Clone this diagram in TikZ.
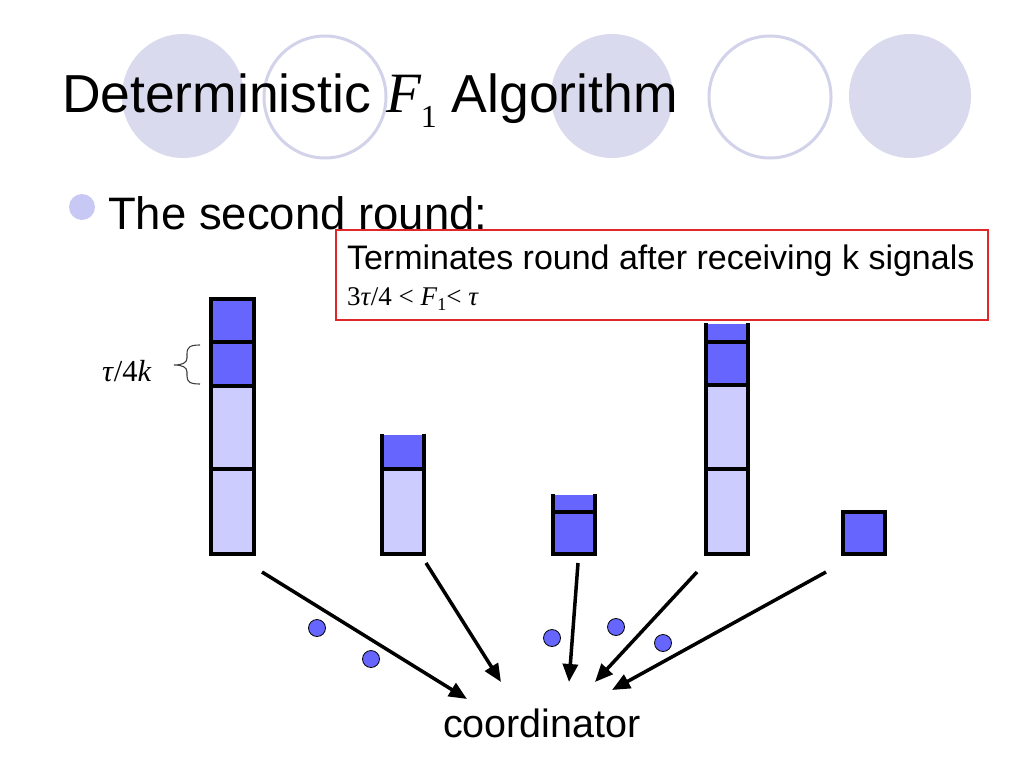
\documentclass[tikz,border=0pt]{standalone}
\usepackage{fontspec}
\setmainfont{Liberation Sans}
\newfontfamily\seriffont{Liberation Serif}
\usetikzlibrary{arrows.meta}
\definecolor{deco}{HTML}{DADAEE}
\definecolor{decoline}{HTML}{D2D2EA}
\definecolor{darkseg}{HTML}{6666FF}
\definecolor{lightseg}{HTML}{CCCCFF}
\definecolor{bulletcol}{HTML}{C8C8F4}
\definecolor{boxred}{HTML}{E02828}
\begin{document}
\begin{tikzpicture}[x=1pt,y=-1pt,
  txt/.style={anchor=base west,inner sep=0pt,outer sep=0pt},
  barline/.style={line width=4pt,line cap=rect},
  conn/.style={line width=3.5pt,-{Triangle[length=18pt,width=15pt]}},
  sig/.style={circle,fill=darkseg,draw=black,line width=0.8pt,minimum size=17pt,inner sep=0pt}]
\useasboundingbox (0,0) rectangle (1024,768);
% header decoration
\fill[deco] (183,96) ellipse [x radius=61pt,y radius=62pt];
\draw[decoline,line width=3pt] (325,97) ellipse [x radius=61pt,y radius=61pt];
\fill[deco] (612,96) ellipse [x radius=61pt,y radius=62pt];
\draw[decoline,line width=3pt] (770,97) ellipse [x radius=61pt,y radius=61pt];
\fill[deco] (910,96) ellipse [x radius=61pt,y radius=62pt];
% title
\node[txt] (title) at (62,112) {\fontsize{53.5}{53.5}\selectfont Deterministic {\seriffont\itshape\fontsize{57}{57}\selectfont F}\raisebox{-15pt}{\seriffont\fontsize{32}{32}\selectfont 1} Algorithm};
% bullet
\fill[bulletcol] (82,207) circle [radius=13pt];
\node[txt] (bul) at (108,229) {\fontsize{45.5}{45.5}\selectfont The second round:};
% red box
\draw[boxred,line width=2pt,fill=white] (336,230) rectangle (988,320);
\node[txt] (term) at (347,269) {\fontsize{34}{34}\selectfont Terminates round after receiving k signals};
\node[txt] (ineq) at (347,305) {\seriffont\fontsize{27}{27}\selectfont 3\textit{τ}/4 {<} \textit{F}\raisebox{-5pt}{\fontsize{18}{18}\selectfont 1}{<} \textit{τ}};
% bar 1
\fill[darkseg] (211,299) rectangle (254,386);
\fill[lightseg] (211,386) rectangle (254,554);
\draw[barline] (211,299) rectangle (254,554);
\draw[barline] (211,342) -- (254,342) (211,386) -- (254,386) (211,469) -- (254,469);
% bar 2
\fill[darkseg] (382,435) rectangle (424,469);
\fill[lightseg] (382,469) rectangle (424,554);
\draw[barline] (382,436) -- (382,554) -- (424,554) -- (424,436);
\draw[barline] (382,469) -- (424,469);
% bar 3
\fill[darkseg] (553,495) rectangle (595,554);
\draw[barline] (553,496) -- (553,554) -- (595,554) -- (595,496);
\draw[barline] (553,512) -- (595,512);
% bar 4
\fill[darkseg] (706,324) rectangle (748,385);
\fill[lightseg] (706,385) rectangle (748,554);
\draw[barline] (706,325) -- (706,554) -- (748,554) -- (748,325);
\draw[barline] (706,342) -- (748,342) (706,385) -- (748,385) (706,469) -- (748,469);
% bar 5
\fill[darkseg] (843,512) rectangle (885,554);
\draw[barline] (843,512) rectangle (885,554);
% brace label
\node[txt] (tk) at (102,381) {\seriffont\fontsize{30.5}{30.5}\selectfont\textit{τ}/4\textit{k}};
\draw[black!75,line width=1.1pt] (200,345) .. controls (190,345) and (187,347) .. (187,354) -- (187,358) .. controls (187,363) and (182,365) .. (174,365) .. controls (182,365) and (187,367) .. (187,372) -- (187,376) .. controls (187,382) and (190,384) .. (200,384);
% coordinator
\node[txt] (coord) at (443,737) {\fontsize{39.5}{39.5}\selectfont coordinator};
\coordinate (s1) at (262,572); \coordinate (e1) at (467,699);
\coordinate (s2) at (426,563); \coordinate (e2) at (501,682);
\coordinate (s3) at (578,563); \coordinate (e3) at (569,682);
\coordinate (s4) at (697,572); \coordinate (e4) at (595,682);
\coordinate (s5) at (826,572); \coordinate (e5) at (612,690);
\draw[conn] (s1) -- (e1);
\draw[conn] (s2) -- (e2);
\draw[conn] (s3) -- (e3);
\draw[conn] (s4) -- (e4);
\draw[conn] (s5) -- (e5);
% signals
\node[sig] (d1) at (317,628) {};
\node[sig] (d2) at (371,659) {};
\node[sig] (d3) at (552,638) {};
\node[sig] (d4) at (616,627) {};
\node[sig] (d5) at (663,643) {};
\end{tikzpicture}
\end{document}
